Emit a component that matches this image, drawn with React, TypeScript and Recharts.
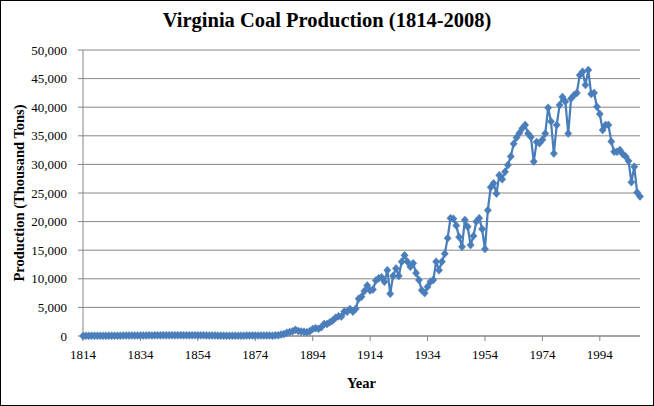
import { LineChart, Line, XAxis, YAxis, CartesianGrid } from 'recharts';

// Virginia coal output, thousand short tons, one value per year from 1814.
const FIRST_YEAR = 1814;

const early1814 = [
  20, 24, 27, 31, 29, 35, 40, 38, 45, 54,
  50, 58, 63, 60, 68, 74, 79, 85, 82, 90,
  96, 102, 98, 110, 106, 113, 118, 112, 121, 125,
  128, 122, 130, 134, 127, 124, 131, 120, 117, 123,
  115, 110, 113, 104, 100, 96, 92, 64, 58, 46,
  44, 49, 55, 52, 60, 63, 58, 66, 70, 68,
  74, 71, 79, 83, 88, 95,
];

const growth1880 = [
  40, 112, 112, 252, 336, 567, 685, 826, 1074, 865,
  784, 736, 676, 820, 1229, 1368, 1254, 1528, 2107, 2106,
  2394, 2725, 3183, 3451, 3410, 4275, 4255, 4711, 4259, 4753,
  6508, 6864, 7847, 8828, 7960, 8123, 9707, 10087, 10287, 9487,
];

const interwar1920 = [
  11500, 7400, 10500, 11800, 10500, 13000, 14100, 13000, 12100, 12700,
  11000, 9800, 8000, 7500, 8600, 9500, 9800, 13000, 11500, 13000,
  14400, 17100, 20600, 20500, 19300, 17300, 15600, 20300, 19100, 15900,
  17500, 20000, 20600, 18700, 15200, 22000, 26000, 26700, 24900, 28100,
];

const modern1960 = [
  27400, 28700, 29900, 31400, 33600, 34700, 35500, 36300, 36900, 35400,
  34800, 30500, 33900, 33700, 34300, 35400, 39900, 37500, 31900, 36900,
  40400, 41800, 41000, 35400, 41500, 42100, 42500, 45600, 46200, 43900,
  46500, 42300, 42500, 40100, 38800, 36000, 36900, 36900, 34000, 32200,
  32200, 32500, 31800, 31400, 30600, 26900, 29600, 25100, 24400,
];

const yearTicks = [1814, 1834, 1854, 1874, 1894, 1914, 1934, 1954, 1974, 1994];
const productionTicks = [0, 5000, 10000, 15000, 20000, 25000, 30000, 35000, 40000, 45000, 50000];

const production = [...early1814, ...growth1880, ...interwar1920, ...modern1960];
const data = production.map((tons, i) => ({ year: FIRST_YEAR + i, tons }));

const BLUE = '#4A7EBB';
const GRID = '#868686';
const FONT = '"Liberation Serif", "Times New Roman", serif';

const Diamond = (props: any) => {
  const { cx, cy, index } = props;
  if (cx == null || cy == null) return null;
  return (
    <path
      key={`pt-${index}`}
      d={`M${cx},${cy - 4}L${cx + 3.6},${cy}L${cx},${cy + 4}L${cx - 3.6},${cy}Z`}
      fill={BLUE}
      stroke={BLUE}
      strokeWidth={0.5}
    />
  );
};

export default function App() {
  return (
    <div style={{ position: 'absolute', left: 0, top: 0, width: 654, height: 406, background: '#fff', fontFamily: FONT }}>
      <div style={{ position: 'absolute', top: 9, left: 0, width: 654, textAlign: 'center', fontSize: 20.5, lineHeight: '23px', fontWeight: 'bold', color: '#000' }}>
        Virginia Coal Production (1814-2008)
      </div>
      <LineChart width={654} height={406} data={data} margin={{ top: 50, right: 14, bottom: 0, left: 0 }} style={{ fontFamily: FONT }}>
        <CartesianGrid vertical={false} stroke={GRID} strokeWidth={1} />
        <XAxis
          dataKey="year"
          type="number"
          domain={[1814, 2008]}
          ticks={yearTicks}
          interval={0}
          height={70}
          stroke={GRID}
          tickSize={5}
          tickMargin={9}
          tick={{ fill: '#000', fontSize: 13 }}
          label={{ value: 'Year', position: 'insideBottom', offset: 18, style: { fontWeight: 'bold', fontSize: 14.5, fill: '#000' } }}
        />
        <YAxis
          type="number"
          domain={[0, 50000]}
          ticks={productionTicks}
          interval={0}
          width={83}
          stroke={GRID}
          tickSize={5}
          tickMargin={11}
          tick={{ fill: '#000', fontSize: 13 }}
          tickFormatter={(v: number) => v.toLocaleString('en-US')}
          label={{ value: 'Production (Thousand Tons)', angle: -90, position: 'insideLeft', offset: 19, style: { textAnchor: 'middle', fontWeight: 'bold', fontSize: 14.5, fill: '#000' } }}
        />
        <Line
          type="linear"
          dataKey="tons"
          stroke={BLUE}
          strokeWidth={2.25}
          dot={Diamond}
          activeDot={false}
          isAnimationActive={false}
        />
      </LineChart>
      <div style={{ position: 'absolute', left: 0, top: 0, width: 654, height: 406, boxSizing: 'border-box', border: '1px solid #000', pointerEvents: 'none' }} />
    </div>
  );
}
